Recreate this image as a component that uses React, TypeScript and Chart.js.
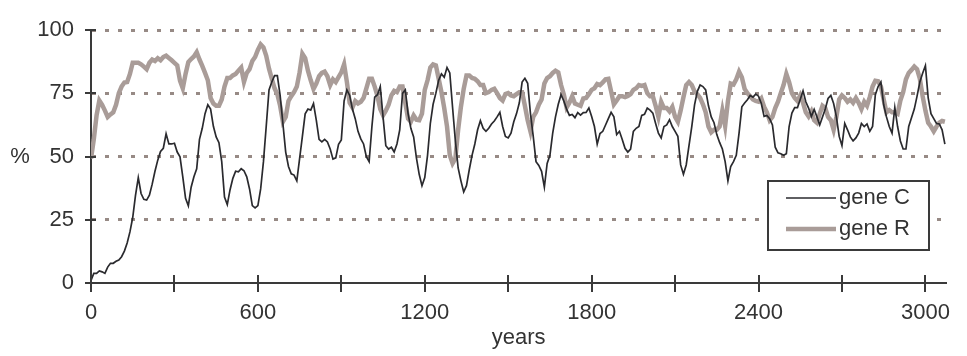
import React, { useEffect, useRef } from 'react';
import { Chart, registerables } from 'chart.js';

Chart.register(...registerables);

// ---- data ----
const YEAR_STEP = 10; // one sample every 10 years, starting at year 0
const SERIES_NAMES = ['gene C', 'gene R'];

const GENE_C = [
  1, 3.8, 3.8, 4.8, 4.4, 3.8, 6.3, 7.8, 7.8, 8.6,
  9.1, 10.4, 12.6, 15.8, 20.2, 25.9, 34.7, 41.7, 35.4, 33.1,
  32.8, 34.7, 39.1, 44.2, 48.6, 52, 53.3, 59, 55, 55,
  55.3, 51.8, 49.9, 42, 33.5, 30.5, 37.9, 42, 45.2, 56.8,
  61.2, 67, 70.5, 68.8, 62, 57.8, 55.5, 48, 34, 31,
  36.9, 41.4, 44.2, 44, 45.2, 44.4, 42, 37.2, 30.6, 29.7,
  30.6, 37.2, 48, 62, 76.4, 79.5, 82, 82, 74.2, 63,
  51.8, 46.1, 43.2, 42.7, 40.4, 49.2, 58, 66.9, 68.8, 68.4,
  71, 64.4, 56.8, 55.8, 56.8, 55.8, 53, 49, 49.5, 54.9,
  56.6, 72, 76.4, 74.2, 68.8, 65, 60, 57, 55, 50,
  48, 61.9, 73.5, 74.5, 77.7, 65.7, 54.3, 53, 53.7, 51.8,
  55, 60.6, 75, 76.4, 67, 61.2, 57.8, 49.5, 43, 38.5,
  41.7, 50.5, 63.1, 70.7, 75.1, 80.2, 82.7, 81.4, 85.2, 83.1,
  69.4, 56.2, 45.5, 40.4, 36, 38.5, 44.8, 50.5, 55, 60.6,
  64.2, 61.2, 60, 61.2, 62.9, 64.1, 65.7, 67.5, 61.9, 58,
  57.4, 59.3, 63.8, 67, 71.3, 79.5, 81, 79, 67, 58,
  48, 46.5, 44.2, 37.9, 47.3, 50.5, 59.3, 65.7, 70.7, 74.5,
  72, 68.8, 66.3, 66.7, 65.4, 67.4, 66.4, 67.4, 67.5, 69.2,
  65.9, 61.9, 54.9, 59.1, 60, 62.5, 65, 67.5, 65.7, 58.7,
  60, 56.8, 53.3, 51.8, 53, 60, 61.2, 61.9, 66.3, 66.7,
  69.2, 68.4, 67.2, 63.1, 59.3, 57.4, 61.9, 62.5, 64.6, 61.9,
  60, 58, 46.7, 43, 46.7, 54.3, 61.9, 70.5, 75.8, 78.3,
  77.7, 76.4, 70.1, 65.7, 63.4, 58.7, 55.6, 53, 48, 40.4,
  46.1, 48, 50.5, 59.3, 69.7, 71.2, 72.5, 74.2, 73.5, 74.7,
  73.9, 71, 65.9, 66.3, 65, 62.5, 53.7, 51.5, 51.1, 50.5,
  51.1, 61.9, 67.2, 69.4, 69.4, 72.6, 76, 71.7, 69.2, 65.9,
  68.7, 65.7, 62.5, 65.7, 68.8, 73, 74.2, 71, 65.7, 58,
  54.3, 63.1, 60.6, 57.8, 56.2, 57.4, 59.3, 63.1, 61.9, 62.9,
  60, 61.9, 74.5, 77.7, 79.5, 70.5, 65.7, 61.9, 59.3, 69.4,
  61.9, 56.2, 53, 53, 61.9, 65.4, 68.8, 73.9, 79.5, 83,
  86, 73.2, 67, 65, 63.1, 62.9, 60.6, 54.9,
];

const GENE_R = [
  49.2, 56.8, 66.3, 72.2, 70.5, 68.2, 65.7, 66.7, 67.5, 70.5,
  75.1, 77.7, 79.3, 79.5, 82.7, 87.1, 87.1, 87.1, 86.5, 85.6,
  84.6, 87.1, 88.4, 87.8, 88.9, 88.1, 89.4, 89.9, 89, 88.1,
  87.1, 86.1, 80, 77, 82.7, 87.4, 88.6, 89.6, 91.3, 88.4,
  85.9, 83.1, 80.2, 73.2, 71, 70.1, 70.1, 72.6, 77.7, 81.1,
  81.1, 82.1, 82.7, 84, 85.2, 79.5, 83.1, 84.6, 87.8, 89.4,
  92.2, 94.4, 93.2, 89.9, 84.8, 80.8, 77, 74.7, 70.1, 63.8,
  65.7, 72, 73.9, 75.5, 77.7, 83.3, 90.7, 89, 84, 80.2,
  76.8, 78.9, 81.8, 83.1, 83.6, 81.8, 78.3, 80.6, 79.5, 81.4,
  83.3, 86.5, 79.5, 71.3, 69.4, 72, 71, 71.7, 73.2, 77,
  80.8, 80.8, 77.7, 73.9, 68.8, 66.3, 68.2, 70.5, 74.2, 76,
  75.5, 77.7, 77.7, 71.3, 65, 63.8, 66.3, 64.6, 64.4, 67,
  76.4, 80.2, 85.2, 86.5, 86.1, 80.8, 75.5, 69.2, 61.9, 50.5,
  47.3, 49.2, 60.6, 69.7, 76.8, 82.1, 82.1, 81.1, 80.8, 79.8,
  78.3, 78.3, 75.1, 75.5, 76.4, 76.8, 75.1, 73.2, 72.2, 74.7,
  75.1, 74.2, 73.9, 74.7, 75.5, 75.5, 70.1, 64.4, 60, 65.7,
  67.5, 70.5, 72.6, 78.9, 81.1, 81.8, 83.1, 84, 83.3, 78.3,
  74.5, 69.4, 71.3, 73.9, 71, 70.5, 70.1, 73, 73.2, 74.7,
  76.4, 77, 78.7, 78.3, 79.3, 80.6, 80.8, 75.8, 70.7, 72.2,
  73.9, 73.9, 73.5, 74, 74.7, 76.4, 77, 78.3, 78, 78.3,
  75.1, 73.9, 73.9, 70.1, 65.7, 71.7, 69.2, 69.2, 67.9, 69.7,
  65.7, 63.8, 68.2, 73.5, 78.3, 79.5, 78.3, 75.8, 74.7, 73.2,
  70.7, 67.5, 61.9, 59.6, 60.6, 60.6, 61.9, 68.2, 62.1, 72,
  78.9, 78.5, 80.6, 83.6, 81.4, 76.8, 75.1, 73.9, 72.6, 72,
  71.7, 73, 69.7, 67.5, 64.4, 65.7, 69.2, 71.7, 75.1, 78.3,
  82.7, 79.5, 75.1, 73.2, 72, 74.2, 71.3, 67.5, 65.9, 67.9,
  64.4, 63.4, 66.9, 70.1, 69.2, 65.7, 64.4, 60.6, 65.7, 72.6,
  74.2, 73.2, 71.7, 72.6, 71.3, 73.2, 71.3, 68.8, 71.7, 70.1,
  73.5, 77.7, 80, 79.8, 77.7, 72.6, 67.5, 68.4, 67.5, 67.5,
  66.9, 72.2, 75.5, 80.6, 83.1, 84.3, 85.6, 84.6, 80.8, 73.9,
  68.2, 63.4, 61.9, 60, 61.9, 63.4, 64.1, 63.8,
];

const X_MIN = 0;
const X_MAX = 3075;
const X_TICK_STEP = 300;
const X_LABEL_STEP = 600;
const Y_MIN = 0;
const Y_MAX = 100;
const Y_TICK_STEP = 25;
const X_TITLE = 'years';
const Y_TITLE = '%';

// ---- styles ----
const FONT_FAMILY = '"Liberation Sans", Arial, Helvetica, sans-serif';
const FONT_SIZE = 22;
const TEXT_COLOR = '#333333';
const AXIS_COLOR = '#3a3a3a';
const GRID_COLOR = '#978a85';
const C_COLOR = '#2a2a2e';
const R_COLOR = '#a99c98';
const C_WIDTH = 1.7;
const R_WIDTH = 4.5;

export default function App() {
  const canvasRef = useRef<HTMLCanvasElement | null>(null);

  useEffect(() => {
    const canvas = canvasRef.current;
    if (!canvas) return;
    const years = GENE_C.map((_, i) => i * YEAR_STEP);
    const toPoints = (arr: number[]) => arr.map((v, i) => ({ x: years[i], y: v }));

    const decor = {
      id: 'decor',
      afterDraw(chart: any) {
        const { ctx } = chart;
        const xs = chart.scales.x;
        const ys = chart.scales.y;
        const axisY = ys.getPixelForValue(0);
        const axisX = xs.getPixelForValue(0);
        ctx.save();
        // crossing tick marks
        ctx.strokeStyle = AXIS_COLOR;
        ctx.lineWidth = 2;
        xs.ticks.forEach((t: any) => {
          const px = Math.round(xs.getPixelForValue(t.value));
          ctx.beginPath();
          ctx.moveTo(px, axisY - 8);
          ctx.lineTo(px, axisY + 9);
          ctx.stroke();
        });
        ys.ticks.forEach((t: any) => {
          const py = Math.round(ys.getPixelForValue(t.value));
          ctx.beginPath();
          ctx.moveTo(axisX - 6, py);
          ctx.lineTo(axisX + 5, py);
          ctx.stroke();
        });
        // y title
        ctx.fillStyle = TEXT_COLOR;
        ctx.font = `${FONT_SIZE}px ${FONT_FAMILY}`;
        ctx.textAlign = 'center';
        ctx.textBaseline = 'middle';
        ctx.fillText(Y_TITLE, 20, ys.getPixelForValue(50));
        // legend
        const lx = 768, ly = 181, lw = 161, lh = 69;
        ctx.fillStyle = '#ffffff';
        ctx.fillRect(lx, ly, lw, lh);
        ctx.strokeStyle = AXIS_COLOR;
        ctx.lineWidth = 2;
        ctx.strokeRect(lx, ly, lw, lh);
        const entries = [
          { name: SERIES_NAMES[0], color: C_COLOR, width: C_WIDTH, y: 198 },
          { name: SERIES_NAMES[1], color: R_COLOR, width: R_WIDTH, y: 229 },
        ];
        entries.forEach((e) => {
          ctx.strokeStyle = e.color;
          ctx.lineWidth = e.width;
          ctx.beginPath();
          ctx.moveTo(786, e.y);
          ctx.lineTo(836, e.y);
          ctx.stroke();
          ctx.fillStyle = TEXT_COLOR;
          ctx.textAlign = 'left';
          ctx.textBaseline = 'middle';
          ctx.fillText(e.name, 839, e.y);
        });
        ctx.restore();
      },
    };

    const chart = new Chart(canvas, {
      type: 'line',
      data: {
        datasets: [
          {
            label: SERIES_NAMES[1],
            data: toPoints(GENE_R),
            borderColor: R_COLOR,
            borderWidth: R_WIDTH,
            pointRadius: 0,
            tension: 0,
            order: 2,
          },
          {
            label: SERIES_NAMES[0],
            data: toPoints(GENE_C),
            borderColor: C_COLOR,
            borderWidth: C_WIDTH,
            pointRadius: 0,
            tension: 0,
            order: 1,
          },
        ],
      },
      options: {
        responsive: false,
        animation: false,
        devicePixelRatio: 1,
        layout: { padding: { left: 0, right: 5, top: 19, bottom: 0 } },
        plugins: { legend: { display: false }, tooltip: { enabled: false } },
        scales: {
          x: {
            type: 'linear',
            min: X_MIN,
            max: X_MAX,
            afterFit: (s: any) => { s.height = 73; },
            afterBuildTicks: (s: any) => {
              const t = [];
              for (let v = X_MIN; v <= X_MAX; v += X_TICK_STEP) t.push({ value: v });
              s.ticks = t;
            },
            ticks: {
              stepSize: X_TICK_STEP,
              includeBounds: false,
              autoSkip: false,
              maxRotation: 0,
              minRotation: 0,
              padding: 17,
              color: TEXT_COLOR,
              font: { family: FONT_FAMILY, size: FONT_SIZE },
              callback: (v: any) => {
                const n = Math.round(Number(v));
                return n % X_LABEL_STEP === 0 ? String(n) : '';
              },
            },
            grid: { display: false, drawTicks: false },
            border: { display: true, color: AXIS_COLOR, width: 2 },
            title: {
              display: true,
              text: X_TITLE,
              color: TEXT_COLOR,
              font: { family: FONT_FAMILY, size: FONT_SIZE },
              padding: { top: 0, bottom: 5 },
            },
          },
          y: {
            type: 'linear',
            min: Y_MIN,
            max: Y_MAX,
            afterFit: (s: any) => { s.width = 91; },
            ticks: {
              stepSize: Y_TICK_STEP,
              padding: 17,
              color: TEXT_COLOR,
              font: { family: FONT_FAMILY, size: FONT_SIZE },
            },
            grid: {
              drawTicks: false,
              lineWidth: 3,
              color: (c: any) => (c.tick && c.tick.value === 0 ? 'rgba(0,0,0,0)' : GRID_COLOR),
            },
            border: { display: true, color: AXIS_COLOR, width: 2, dash: [4, 9], dashOffset: 0 },
          },
        },
      },
      plugins: [decor],
    } as any);

    return () => chart.destroy();
  }, []);

  return (
    <div style={{ position: 'absolute', left: 0, top: 0, width: 967, height: 356, background: '#ffffff' }}>
      <canvas ref={canvasRef} width={967} height={356} style={{ display: 'block' }} />
    </div>
  );
}
